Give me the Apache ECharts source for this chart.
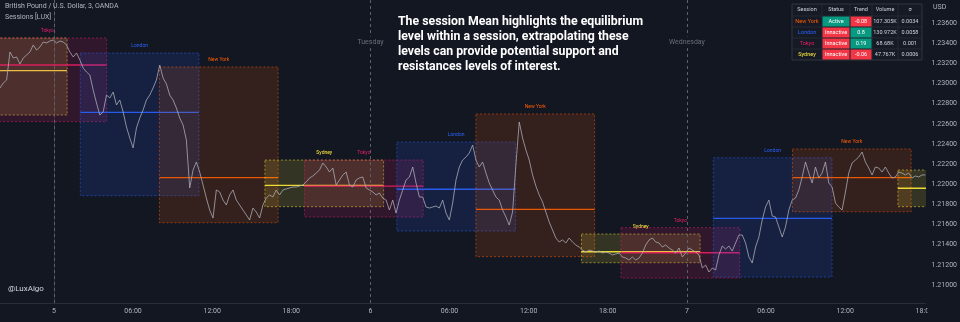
<!DOCTYPE html>
<html><head><meta charset="utf-8">
<script src="https://cdn.jsdelivr.net/npm/echarts@6/dist/echarts.min.js"></script>
<style>html,body{margin:0;padding:0;background:#131722;}#c{width:960px;height:322px;}</style>
</head><body><div id="c"></div>
<script>
// ---------- DATA ----------
const priceStartHour = -4.09;   // hours from day-5 00:00 of first sample
const priceStepHours = 0.2524;  // sample spacing (~15 min)
const prices = [
1.22955,1.23005,1.23034,1.23312,1.23253,1.23263,1.23193,1.23253,1.23282,1.23312,
1.23382,1.23332,1.23362,1.23411,1.23402,1.23421,1.23431,1.23402,1.23421,1.23411,
1.23382,1.23312,1.23263,1.23302,1.23233,1.23153,1.23114,1.23084,1.22935,1.22806,
1.22687,1.22717,1.22885,1.22856,1.22915,1.22786,1.22836,1.22717,1.22568,1.22459,
1.22360,1.22558,1.22657,1.22737,1.22836,1.22885,1.22955,1.23034,1.23183,1.23054,
1.22995,1.22885,1.22836,1.22756,1.22657,1.22588,1.22439,1.21963,1.22141,1.22221,
1.22121,1.21992,1.21863,1.21744,1.21665,1.21943,1.21923,1.21843,1.21794,1.21893,
1.21943,1.21843,1.21794,1.21744,1.21695,1.21645,1.21764,1.21724,1.21665,1.21794,
1.21863,1.21893,1.21873,1.21943,1.21893,1.21943,1.21953,1.21963,1.21972,1.21972,
1.21982,1.21992,1.22022,1.22062,1.22082,1.22111,1.22141,1.22211,1.22171,1.22121,
1.22161,1.21992,1.22042,1.22092,1.22121,1.21992,1.21972,1.22042,1.22062,1.22072,
1.21963,1.21943,1.21923,1.21893,1.21913,1.21863,1.21843,1.21744,1.21843,1.21714,
1.21843,1.21943,1.22042,1.22072,1.22171,1.22012,1.21873,1.21873,1.21774,1.21764,
1.21774,1.21784,1.21764,1.21843,1.21714,1.21645,1.21814,1.22042,1.22171,1.22240,
1.22270,1.22310,1.22389,1.22240,1.22171,1.22221,1.22111,1.22012,1.21943,1.21873,
1.21843,1.21744,1.21675,1.21595,1.21724,1.22191,1.22618,1.22459,1.22340,1.22240,
1.22092,1.21982,1.21893,1.21824,1.21724,1.21625,1.21546,1.21466,1.21427,1.21447,
1.21417,1.21466,1.21427,1.21397,1.21377,1.21347,1.21327,1.21347,1.21337,1.21327,
1.21337,1.21317,1.21327,1.21317,1.21298,1.21308,1.21317,1.21278,1.21268,1.21248,
1.21278,1.21248,1.21268,1.21317,1.21397,1.21447,1.21466,1.21427,1.21417,1.21377,
1.21397,1.21367,1.21347,1.21317,1.21367,1.21278,1.21317,1.21367,1.21347,1.21327,
1.21298,1.21169,1.21198,1.21129,1.21169,1.21149,1.21298,1.21387,1.21357,1.21387,
1.21337,1.21417,1.21496,1.21496,1.21417,1.21278,1.21218,1.21377,1.21476,1.21645,
1.21774,1.21843,1.21685,1.21675,1.21576,1.21476,1.21576,1.21744,1.21843,1.21863,
1.21943,1.22072,1.22221,1.22111,1.22012,1.22171,1.22062,1.22111,1.22221,1.22012,
1.21972,1.21814,1.21774,1.21744,1.21923,1.22111,1.22211,1.22240,1.22270,1.22320,
1.22221,1.22161,1.22092,1.22171,1.22161,1.22121,1.22171,1.22111,1.22062,1.22072,
1.22121,1.22111,1.22092,1.22111,1.22062,1.22082,1.22072,1.22092,1.22092
];

const sessionNames  = ['New York','London','Tokyo','Sydney'];
const sessionColors = ['#ff5d00','#2962ff','#e91e63','#ffeb3b'];
// boxes (hours from day-5 00:00)
const boxKind  = [3,2,1,0,3,2,1,0,3,2,1,0,3];
const boxStart = [-8,-5,2,8,16,19,26,32,40,43,50,56,64];
const boxEnd   = [1,4,11,17,25,28,35,41,49,52,59,65,73];
const boxHigh  = [1.23451,1.23451,1.23302,1.23163,1.22240,1.22240,1.22419,1.22697,1.21506,1.21569,1.22263,1.22350,1.22141];
const boxLow   = [1.22687,1.22621,1.21886,1.21618,1.21777,1.21675,1.21536,1.21281,1.21221,1.21069,1.21079,1.21727,1.21777];
const boxMean  = [1.23127,1.23183,1.22714,1.22065,1.21989,1.21982,1.21950,1.21751,1.21330,1.21320,1.21662,1.22065,1.21960];
const boxLabeled = [false,true,true,true,true,true,true,true,true,true,true,true,false];

const dayLines  = [0,24,48];
const dayNames  = ['', 'Tuesday', 'Wednesday'];
const xTicks    = [0,6,12,18,24,30,36,42,48,54,60,66];
const yTicks    = [1.210,1.212,1.214,1.216,1.218,1.220,1.222,1.224,1.226,1.228,1.230,1.232,1.234,1.236];

// table
const tableHeader = ['Session','Status','Trend','Volume','\u03c3'];
const tableStatus = ['Active','Innactive','Innactive','Innactive'];
const tableTrend  = ['-0.08','0.8','0.19','-0.06'];
const tableVolume = ['107.305K','130.972K','68.68K','47.767K'];
const tableSigma  = ['0.0034','0.0058','0.001','0.0006'];

const noteText = 'The session Mean highlights the equilibrium\nlevel within a session, extrapolating these\nlevels can provide potential support and\nresistances levels of interest.';

// ---------- CHART ----------
const BG = '#131722';
const FONT = 'Roboto, "Noto Sans", sans-serif';
function alpha(hex, a){
  const n = parseInt(hex.slice(1),16);
  return 'rgba(' + ((n>>16)&255) + ',' + ((n>>8)&255) + ',' + (n&255) + ',' + a + ')';
}
const priceData = prices.map((p,i)=>[priceStartHour + i*priceStepHours, p]);
const boxData = boxKind.map((k,i)=>[boxStart[i], boxEnd[i], boxHigh[i], boxLow[i], boxMean[i], k, boxLabeled[i]?1:0]);

function renderBox(params, api){
  const s=api.value(0), e=api.value(1), hi=api.value(2), lo=api.value(3), m=api.value(4), k=api.value(5), lab=api.value(6);
  const p1=api.coord([s,hi]), p2=api.coord([e,lo]);
  const my=api.coord([s,m])[1];
  const col=sessionColors[k];
  const children=[
    {type:'rect', shape:{x:p1[0], y:p1[1], width:p2[0]-p1[0], height:p2[1]-p1[1]},
     style:{fill:alpha(col,0.14), stroke:alpha(col,0.5), lineWidth:1, lineDash:[2,2]}},
    {type:'line', shape:{x1:p1[0], y1:my, x2:p2[0], y2:my}, style:{stroke:alpha(col,0.9), lineWidth:1.3}}
  ];
  if(lab) children.push({type:'text', x:(p1[0]+p2[0])/2, y:p1[1]-7,
     style:{text:sessionNames[k], fill:col, font:'5px '+FONT, align:'center', verticalAlign:'middle'}});
  return {type:'group', children:children};
}
function renderDay(params, api){
  const x=api.coord([api.value(0), 1.22])[0];
  const name=dayNames[params.dataIndex];
  if(!name) return null;
  return {type:'text', x:x, y:42, z2:10,
    style:{text:name, fill:'#6a6d78', font:'7px '+FONT, align:'center', verticalAlign:'middle',
           backgroundColor:BG, padding:[2,2]}};
}

// table graphics
const colX=[792,822,850,872,898,922];
const rowY=[4,16,27,38,49,60];
const tbl=[];
tbl.push({type:'rect', shape:{x:colX[0], y:rowY[0], width:colX[5]-colX[0], height:rowY[5]-rowY[0]},
  style:{fill:'#161a25', stroke:'#2a2e39', lineWidth:1}});
for(let r=0;r<=5;r++) tbl.push({type:'line', shape:{x1:colX[0],y1:rowY[r],x2:colX[5],y2:rowY[r]}, style:{stroke:'#2a2e39',lineWidth:0.8}});
for(let c=0;c<=5;c++) tbl.push({type:'line', shape:{x1:colX[c],y1:rowY[0],x2:colX[c],y2:rowY[5]}, style:{stroke:'#2a2e39',lineWidth:0.8}});
function cellText(c,r,txt,color){
  tbl.push({type:'text', x:(colX[c]+colX[c+1])/2, y:(rowY[r]+rowY[r+1])/2,
    style:{text:txt, fill:color, font:'5.5px '+FONT, align:'center', verticalAlign:'middle'}});
}
function cellBg(c,r,color){
  tbl.push({type:'rect', shape:{x:colX[c]+0.5, y:rowY[r]+0.5, width:colX[c+1]-colX[c]-1, height:rowY[r+1]-rowY[r]-1},
    style:{fill:color}});
}
tableHeader.forEach((h,c)=>cellText(c,0,h,'#d1d4dc'));
for(let i=0;i<4;i++){
  const r=i+1;
  cellText(0,r,sessionNames[i],sessionColors[i]);
  cellBg(1,r,tableStatus[i]==='Active'?'#089981':'#f23645');
  cellText(1,r,tableStatus[i],'#ffffff');
  cellBg(2,r,parseFloat(tableTrend[i])<0?'#f23645':'#089981');
  cellText(2,r,tableTrend[i],'#ffffff');
  cellText(3,r,tableVolume[i],'#d1d4dc');
  cellText(4,r,tableSigma[i],'#d1d4dc');
}

const chart = echarts.init(document.getElementById('c'), null, {renderer:'canvas'});
const pxPerHour = 634/48;
chart.setOption({
  backgroundColor: BG,
  animation:false,
  grid:{left:0, right:33, top:0, bottom:19, containLabel:false},
  xAxis:{type:'value', min:-54/pxPerHour, max:(927-54)/pxPerHour,
    axisLine:{show:true, lineStyle:{color:'#2a2e39'}}, axisTick:{show:false}, splitLine:{show:false},
    axisLabel:{customValues:xTicks, color:'#b2b5be', fontSize:7, fontFamily:FONT, margin:5,
      formatter:v=>{ if(v%24===0) return String(5+v/24); const h=v%24; return (h<10?'0':'')+h+':00'; }}},
  yAxis:{type:'value', position:'right', min:1.236-280/10077, max:1.236+23/10077, scale:true,
    axisLine:{show:true, lineStyle:{color:'#2a2e39'}}, axisTick:{show:false}, splitLine:{show:false},
    axisLabel:{customValues:yTicks, color:'#b2b5be', fontSize:7, fontFamily:FONT, margin:6,
      formatter:v=>v.toFixed(5)}},
  series:[
    {type:'custom', renderItem:renderBox, data:boxData, clip:true, z:1,
     encode:{x:[0,1], y:[2,3,4]}, silent:true},
    {type:'line', data:priceData, showSymbol:false, z:5, silent:true,
     lineStyle:{color:'#a9acb5', width:0.8},
     markLine:{silent:true, symbol:'none', label:{show:false},
       lineStyle:{color:'#5d606b', type:[3,3], width:1},
       data:dayLines.map(d=>({xAxis:d}))}},
    {type:'custom', renderItem:renderDay, data:dayLines.map(d=>[d]), z:6, clip:false, silent:true,
     encode:{x:0}}
  ],
  graphic:[
    {type:'text', left:5, top:3, z:50, style:{text:'British Pound / U.S. Dollar, 3, OANDA', fill:'#b2b5be', font:'7px '+FONT}},
    {type:'text', left:5, top:14, z:50, style:{text:'Sessions [LUX]', fill:'#b2b5be', font:'7px '+FONT}},
    {type:'text', left:8, top:285, z:50, style:{text:'@LuxAlgo', fill:'#d1d4dc', font:'8px '+FONT}},
    {type:'text', left:933, top:4, z:50, style:{text:'USD', fill:'#b2b5be', font:'7px '+FONT}},
    {type:'text', left:398, top:14, z:50, style:{text:noteText, fill:'#ffffff', font:'bold 12.3px '+FONT, lineHeight:15}},
    {type:'group', z:50, children:tbl},
    {type:'rect', z:60, shape:{x:927.5, y:304, width:33, height:18}, style:{fill:BG}}
  ]
});
</script></body></html>
